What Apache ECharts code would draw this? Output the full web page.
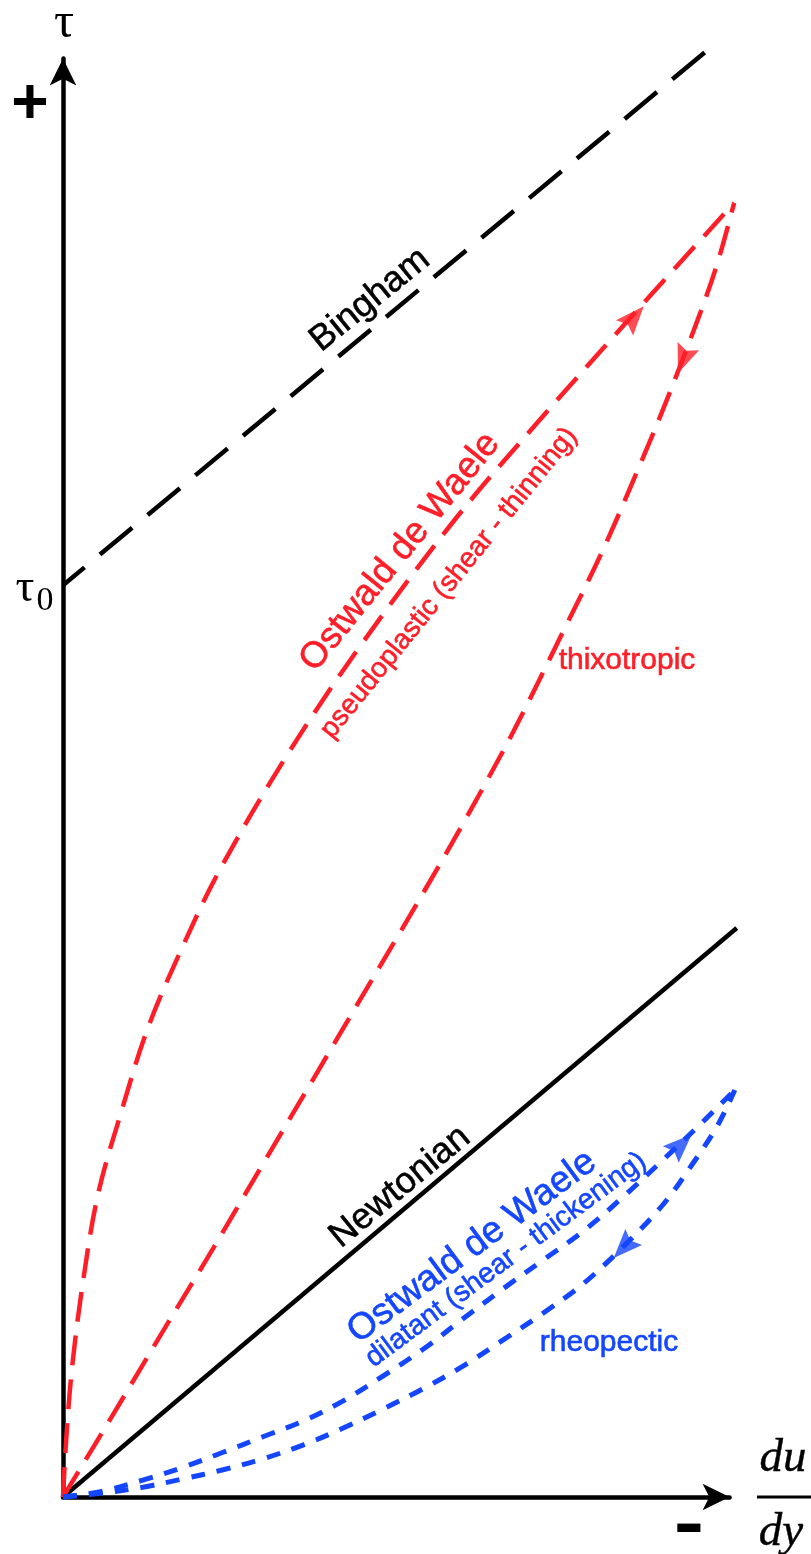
<!DOCTYPE html>
<html>
<head>
<meta charset="utf-8">
<script src="https://cdn.jsdelivr.net/npm/echarts@6/dist/echarts.min.js"></script>
<style>
  html, body { margin: 0; padding: 0; background: #ffffff; }
  #chart { width: 811px; height: 1554px; }
</style>
</head>
<body>
<div id="chart"></div>
<script>
// Shear stress (tau) against shear rate (du/dy) for several fluid models, arbitrary units.
const newtonian = [[0, 0], [10.31, 8.78]];
const bingham = [[0, 14.07], [9.90, 22.36]];

// Ostwald de Waele, n < 1 (shear thinning), loading branch
const pseudoplastic = [
  [0, 0], [0.05, 0.90], [0.14, 2.01], [0.31, 3.35], [0.54, 4.69], [0.90, 5.97],
  [1.30, 7.24], [1.82, 8.47], [2.40, 9.68], [3.43, 11.45], [4.54, 13.12],
  [5.97, 15.05], [7.25, 16.57], [8.88, 18.42], [10.27, 19.97]
];
// unloading branch of the hysteresis loop
const thixotropic = [
  [0, 0], [0.77, 1.28], [1.53, 2.56], [2.30, 3.84], [3.06, 5.14], [3.83, 6.45],
  [4.59, 7.75], [5.36, 9.06], [6.12, 10.39], [6.89, 11.81], [7.65, 13.35],
  [8.26, 14.61], [8.88, 16.05], [9.26, 16.98], [9.75, 18.27], [10.02, 19.06],
  [10.27, 19.97]
];
// Ostwald de Waele, n > 1 (shear thickening), loading branch
const dilatant = [
  [0, 0], [0.61, 0.09], [1.22, 0.26], [1.84, 0.46], [2.45, 0.69], [3.06, 0.93],
  [3.67, 1.17], [4.28, 1.48], [4.90, 1.87], [5.51, 2.28], [6.12, 2.75],
  [6.73, 3.21], [7.35, 3.66], [7.96, 4.10], [8.57, 4.63], [9.18, 5.20],
  [9.79, 5.79], [10.28, 6.28]
];
// unloading branch
const rheopectic = [
  [0, 0], [0.61, 0.06], [1.22, 0.15], [1.84, 0.28], [2.45, 0.42], [3.06, 0.59],
  [3.67, 0.80], [4.28, 1.06], [4.90, 1.36], [5.51, 1.67], [6.12, 2.02],
  [6.73, 2.42], [7.35, 2.84], [7.96, 3.29], [8.57, 3.86], [9.18, 4.51],
  [9.64, 5.15], [10.02, 5.74], [10.28, 6.28]
];

// Direction arrows: position on a branch and whether it points back to the origin
const arrowMarks = [
  { curve: 'pseudoplastic', at: [8.74, 18.21], back: false },
  { curve: 'thixotropic',   at: [9.49, 17.55], back: true },
  { curve: 'dilatant',      at: [9.46, 5.44],  back: false },
  { curve: 'rheopectic',    at: [8.58, 3.85],  back: true }
];

const yieldStress = bingham[0][1];
// visible axes stop a little short of the curve ends; the curves get a roomier frame
const axisRange = { xMax: 10.2, yMax: 22.2 };
const plotRange = { xMax: 10.6, yMax: 22.8 };

// layout: origin of the axes and the scale in pixels per unit
const ORIGIN = { x: 63, y: 1497 };
const PX = { x: 65.35, y: 64.8 };
const H = 1554;

const RED = '#ff1e28';
const BLUE = '#1446ff';
const SANS = '"Liberation Sans", Arial, Helvetica, sans-serif';
const SERIF = '"Liberation Serif", "Times New Roman", serif';
const ARROW_HEAD = 'path://M12,0L24,30L12,25L0,30Z';

const curves = { pseudoplastic, thixotropic, dilatant, rheopectic };
const curveColor = { pseudoplastic: RED, thixotropic: RED, dilatant: BLUE, rheopectic: BLUE };

const chart = echarts.init(document.getElementById('chart'), null, { renderer: 'canvas' });

function gridFor(range) {
  return {
    left: ORIGIN.x, bottom: H - ORIGIN.y,
    width: range.xMax * PX.x, height: range.yMax * PX.y,
    containLabel: false, outerBoundsMode: 'none'
  };
}

const axisCommon = {
  type: 'value',
  min: 0,
  splitLine: { show: false },
  axisTick: { show: false },
  axisLabel: { show: false }
};
const visibleAxisLine = {
  show: true,
  symbol: ['none', 'arrow'],
  symbolSize: [20, 27],
  lineStyle: { color: '#000', width: 4.5 }
};

function lineSeries(name, data, color, type, width) {
  return {
    name, type: 'line', data,
    xAxisIndex: 1, yAxisIndex: 1,
    showSymbol: false, symbol: 'none', clip: false,
    smooth: 0.35,
    lineStyle: { color, width, type, cap: 'butt' },
    z: 2, silent: true
  };
}

chart.setOption({
  animation: false,
  backgroundColor: '#ffffff',
  grid: [gridFor(axisRange), gridFor(plotRange)],
  xAxis: [
    Object.assign({}, axisCommon, { gridIndex: 0, max: axisRange.xMax, axisLine: visibleAxisLine }),
    Object.assign({}, axisCommon, { gridIndex: 1, max: plotRange.xMax, show: false })
  ],
  yAxis: [
    Object.assign({}, axisCommon, { gridIndex: 0, max: axisRange.yMax, axisLine: visibleAxisLine }),
    Object.assign({}, axisCommon, { gridIndex: 1, max: plotRange.yMax, show: false })
  ],
  series: [
    Object.assign(lineSeries('Bingham', bingham, '#000', [42, 20], 4.5),
      { smooth: false, lineStyle: { color: '#000', width: 4.5, type: [42, 20], dashOffset: 14 } }),
    Object.assign(lineSeries('Newtonian', newtonian, '#000', 'solid', 4.5), { smooth: false }),
    lineSeries('pseudoplastic', pseudoplastic, RED, [30, 14], 4.5),
    lineSeries('thixotropic', thixotropic, RED, [30, 14], 4.5),
    lineSeries('dilatant', dilatant, BLUE, [14, 12], 5),
    lineSeries('rheopectic', rheopectic, BLUE, [14, 12], 5)
  ]
});

const toPx = v => chart.convertToPixel({ xAxisIndex: 1, yAxisIndex: 1 }, v);

// on-screen heading of a branch at a given x, as a symbol rotation in degrees
function headingAt(curve, x, back) {
  let i = 0;
  while (i < curve.length - 2 && curve[i + 1][0] < x) i++;
  const a = toPx(curve[i]);
  const b = toPx(curve[i + 1]);
  let ux = b[0] - a[0];
  let uy = -(b[1] - a[1]);
  if (back) { ux = -ux; uy = -uy; }
  return Math.atan2(-ux, uy) * 180 / Math.PI;
}

const arrowData = arrowMarks.map(m => ({
  value: m.at,
  symbolRotate: headingAt(curves[m.curve], m.at[0], m.back),
  itemStyle: { color: curveColor[m.curve] }
}));

const tau0 = toPx([0, yieldStress]);
const deg = d => d * Math.PI / 180;

function label(text, x, y, rot, size, color, extra) {
  return {
    type: 'text', x, y, rotation: deg(rot), silent: true, z: 10,
    style: Object.assign({
      text, fill: color, fontSize: size, fontFamily: SANS,
      stroke: color, lineWidth: 0.6,
      align: 'center', verticalAlign: 'middle'
    }, extra || {})
  };
}

chart.setOption({
  series: [
    {}, {}, {}, {}, {}, {},
    {
      name: 'arrows', type: 'scatter', xAxisIndex: 1, yAxisIndex: 1,
      symbol: ARROW_HEAD, symbolSize: [23, 29],
      clip: false, data: arrowData, z: 4, silent: true
    }
  ],
  graphic: [
    // axis annotations
    label('\u03c4', 64, 24, 0, 50, '#000', { fontFamily: SERIF, lineWidth: 0 }),
    label('+', 30, 105, 0, 64, '#000', { fontWeight: 'bold', lineWidth: 0 }),
    label('\u03c4', 25, tau0[1] + 3.5, 0, 47, '#000', { fontFamily: SERIF, lineWidth: 0 }),
    label('0', 45, tau0[1] + 16, 0, 34, '#000', { fontFamily: SERIF, lineWidth: 0 }),
    Object.assign(label('-', 689, 1527, 0, 70, '#000', { fontWeight: 'bold', lineWidth: 0 }), { scaleX: 1.3 }),
    label('du', 783, 1459, 0, 47, '#000', { fontFamily: SERIF, fontStyle: 'italic', lineWidth: 0.4 }),
    label('dy', 781, 1533, 0, 47, '#000', { fontFamily: SERIF, fontStyle: 'italic', lineWidth: 0.4 }),
    {
      type: 'line', silent: true, z: 10,
      shape: { x1: 757, y1: ORIGIN.y, x2: 811, y2: ORIGIN.y },
      style: { stroke: '#000', lineWidth: 3 }
    },
    // curve names
    label('Bingham', 370, 300, 39, 36, '#000'),
    label('Ostwald de Waele', 400, 552, 51, 36.5, RED),
    label('pseudoplastic (shear - thinning)', 449, 583, 51, 28, RED),
    label('thixotropic', 627, 661, 0, 30, RED),
    label('Newtonian', 400, 1187, 39.5, 36, '#000'),
    label('Ostwald de Waele', 472, 1247, 36.5, 37, BLUE),
    label('dilatant (shear - thickening)', 506, 1260, 36.5, 28.3, BLUE),
    label('rheopectic', 609, 1343, 0, 30, BLUE)
  ]
});
</script>
</body>
</html>
